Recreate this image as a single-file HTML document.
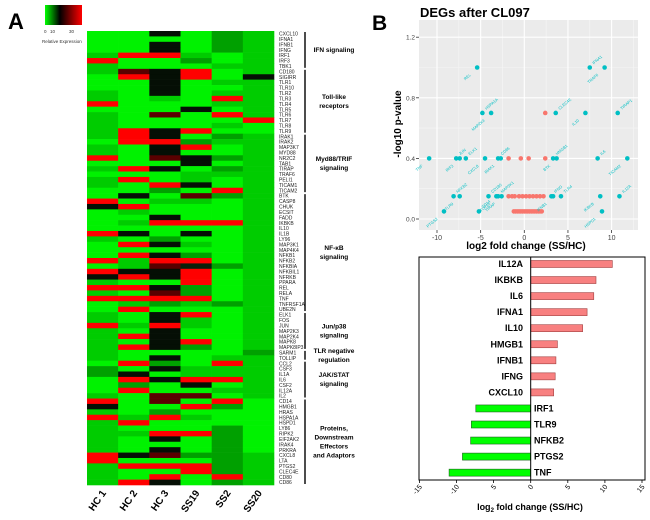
<!DOCTYPE html>
<html><head><meta charset="utf-8"><style>
body{margin:0;background:#fff;}
svg{display:block;font-family:"Liberation Sans",sans-serif;}
</style></head><body>
<svg id="s" width="650" height="520" viewBox="0 0 650 520">
<defs><linearGradient id="cg" x1="0" x2="1"><stop offset="0" stop-color="#00ff00"/><stop offset="0.4" stop-color="#000"/><stop offset="1" stop-color="#ff0000"/></linearGradient></defs>
<text x="8" y="29" font-size="22" font-weight="bold">A</text>
<rect x="45" y="5" width="37" height="20" fill="url(#cg)"/>
<g font-size="4.5" fill="#333"><text x="44" y="33">0</text><text x="50" y="33">10</text><text x="69" y="33">30</text><text x="42" y="43">Relative Expression</text></g>
<g id="hm"></g>
<g id="genes" font-size="5" fill="#222"></g>
<g id="groups"></g>
<g id="cols" font-size="10" font-weight="bold"></g>
<text x="372" y="30" font-size="21" font-weight="bold">B</text>
<text x="420" y="17" font-size="13" font-weight="bold">DEGs after CL097</text>
<g id="sc"></g>
<g id="bar"></g>
</svg>
<script>
const genes=["CXCL10","IFNA1","IFNB1","IFNG","IRF1","IRF3","TBK1","CD180","SIGIRR","TLR1","TLR10","TLR2","TLR3","TLR4","TLR5","TLR6","TLR7","TLR8","TLR9","IRAK1","IRAK2","MAP3K7","MYD88","NR2C2","TAB1","TIRAP","TRAF6","PELI1","TICAM1","TICAM2","BTK","CASP8","CHUK","ECSIT","FADD","IKBKB","IL10","IL1B","LY96","MAP3K1","MAP4K4","NFKB1","NFKB2","NFKBIA","NFKBIL1","NFRKB","PPARA","REL","RELA","TNF","TNFRSF1A","UBE2N","ELK1","FOS","JUN","MAP2K3","MAP2K4","MAPK8","MAPK8IP3","SARM1","TOLLIP","CCL2","CSF3","IL1A","IL6","CSF2","IL12A","IL2","CD14","HMGB1","HRAS","HSPA1A","HSPD1","LY86","RIPK2","EIF2AK2","IRAK4","PRKRA","CXCL8","LTA","PTGS2","CLEC4E","CD80","CD86"];
const samples=["HC 1","HC 2","HC 3","SS19","SS2","SS20"];
const hmRows=["GGKGmg","GGGGmg","GGKGmg","GGKGmg","gRRgGg","RGGmGg","gGGGgg","grKRGg","GRKRGK","GGKGgg","GGKGGg","gGKGgg","gGgGRg","RGGGgg","GGGKGg","gGrGRg","gGGGGR","gGGGgG","gRKRGG","gRKGmg","GRRmgg","gGKRGg","gGKGGg","RGrKmg","GGGKGg","gRKGmg","GGGggg","gRGgGg","gGRKGg","GGmGRg","GKGrmg","RGggGg","KRGGGg","GgGGGg","GGKGGg","GgRRRg","GGGGGg","RKGKGg","gGmGGg","GRKgGg","GGGGGg","GRKmGg","RgRRGg","Ggrkmg","RKKRGg","KRKRGg","gGGRGg","RRKmGg","gGrmGg","RRRRGg","Ggmgmg","GRGGGg","gGKRGg","gGKgGg","RgRgGg","gGKGGg","gRKGGg","gGKRGg","gRKmGg","gGGGGm","gGKGgg","GRmGRg","mGKggg","mKGggg","GRKRRg","GmGKGg","GRGGgg","gGrrGg","RGrGRG","KGGRmG","gGmGGG","RgRgGG","gRGGGG","gGGGmG","ggRRmG","gGKGmG","gGGGmG","gGKGmG","RKrmmg","RGGGmg","gRRRmg","gGGRmg","gGRGRg","gRKGmg"];
const groupNames=[["IFN signaling"],["Toll-like","receptors"],["Myd88/TRIF","signaling"],["NF-κB","signaling"],["Jun/p38","signaling"],["TLR negative","regulation"],["JAK/STAT","signaling"],["Proteins,","Downstream","Effectors","and Adaptors"]];
const groupSizes=[7,12,11,22,7,2,7,16];

const sxTeal=[-5.4,7.5,9.2,-4.8,-3.8,3.6,7.0,10.7,-10.9,-7.8,-7.4,-6.7,-4.5,-3.0,-2.7,3.3,3.7,8.4,11.8,-8.1,-7.4,-4.1,-3.2,-3.0,-2.6,3.1,3.3,4.2,8.7,10.9,-9.2,-5.2,8.9];
const syTeal=[1.0,1.0,1.0,0.7,0.7,0.7,0.7,0.7,0.4,0.4,0.4,0.4,0.4,0.4,0.4,0.4,0.4,0.4,0.4,0.15,0.15,0.15,0.15,0.15,0.15,0.15,0.15,0.15,0.15,0.15,0.05,0.05,0.05];
const labTeal=["REL","IFNA1","TRAF6","HSPA1A","MAP2K4","CLEC4E","IL10","TIRAP1","TNF","JUN","IRF3","ELK1","CXCL8","CD86","IRAK1","HMGB1","BTK","IL6","TICAM2","NFKB2","TLR9","CD180","TLR10","MAP3K1","TIRAP","IFNG","IFNB1","TLR4","IKBKB","IL12A","PTGS2","CD14","HSPD1"];
const sxRed=[2.4,-1.8,-0.4,0.5,2.4,-1.8,-1.4,-1.1,-0.6,-0.2,0.2,0.6,1.0,1.4,1.8,2.2,-1.2,-1.0,-0.8,-0.6,-0.4,-0.2,0,0.2,0.4,0.6,0.8,1.0,1.2,1.4,1.6,1.8,2.0];
const syRed=[0.7,0.4,0.4,0.4,0.4,0.15,0.15,0.15,0.15,0.15,0.15,0.15,0.15,0.15,0.15,0.15,0.05,0.05,0.05,0.05,0.05,0.05,0.05,0.05,0.05,0.05,0.05,0.05,0.05,0.05,0.05,0.05,0.05];
const scXTicks=[-10,-5,0,5,10];
const scYTicks=[0.0,0.4,0.8,1.2];

const barGenes=["IL12A","IKBKB","IL6","IFNA1","IL10","HMGB1","IFNB1","IFNG","CXCL10","IRF1","TLR9","NFKB2","PTGS2","TNF"];
const barValues=[11.0,8.8,8.5,7.6,7.0,3.6,3.4,3.3,3.1,-7.4,-8.0,-8.1,-9.2,-11.0];
const barTicks=[-15,-10,-5,0,5,10,15];
const barTickLabels=["-15","-10","5","0","5","10","15"];

const NS="http://www.w3.org/2000/svg";
function mk(t,a,p){const e=document.createElementNS(NS,t);for(const k in a)e.setAttribute(k,a[k]);p.appendChild(e);return e;}
const cmap={G:"#00f200",g:"#00cc00",m:"#00a000",K:"#050f05",k:"#0a200a",R:"#ff0000",r:"#5a0000"};

// heatmap
const hx0=87,hx1=274,hy0=31,hy1=485;
const cw=(hx1-hx0)/samples.length, rh=(hy1-hy0)/genes.length;
const hm=document.getElementById('hm');
genes.forEach((g,i)=>{
  for(let j=0;j<samples.length;j++){
    const c=mk('rect',{x:hx0+j*cw,y:hy0+i*rh,width:cw+0.3,height:rh+0.3,fill:cmap[hmRows[i][j]]||"#00cc00"},hm);
    
    
  }
  const t=mk('text',{x:279,y:hy0+i*rh+rh*0.85},document.getElementById('genes'));
  t.textContent=g;
  
  
});
samples.forEach((s,j)=>{
  const cx=hx0+(j+0.5)*cw+4, cy=493;
  const t=mk('text',{x:cx,y:cy,transform:`rotate(-55 ${cx} ${cy})`,"text-anchor":"end"},document.getElementById('cols'));
  t.textContent=s;
  
  
});
let acc=0;const gg=document.getElementById('groups');
groupSizes.forEach((n,k)=>{
  const y0=hy0+acc*rh+1,y1=hy0+(acc+n)*rh-1;acc+=n;
  const l=mk('line',{x1:305,x2:305,y1:y0,y2:y1,stroke:"#000","stroke-width":1.4},gg);
  
  
  const lines=groupNames[k];const mid=(y0+y1)/2-(lines.length-1)*4.5+2;
  lines.forEach((ln,q)=>{
    const t=mk('text',{x:334,y:mid+q*9,"font-size":6.5,"font-weight":"bold","text-anchor":"middle"},gg);
    t.textContent=ln;
    
    
  });
});

// volcano
const sc=document.getElementById('sc');
const px0=419,px1=638,py0=20,py1=230;
const X=v=>524.3+v*8.73, Y=v=>219-v*151.5;
mk('rect',{x:px0,y:py0,width:px1-px0,height:py1-py0,fill:"#ebebeb"},sc);
for(let v=-12.5;v<=12.5;v+=5){if(X(v)>px0&&X(v)<px1)mk('line',{x1:X(v),x2:X(v),y1:py0,y2:py1,stroke:"#f6f6f6","stroke-width":0.6},sc);}
for(let v=0.2;v<=1.3;v+=0.4){mk('line',{x1:px0,x2:px1,y1:Y(v),y2:Y(v),stroke:"#f6f6f6","stroke-width":0.6},sc);}
scXTicks.forEach(v=>{
  mk('line',{x1:X(v),x2:X(v),y1:py0,y2:py1,stroke:"#fff","stroke-width":1.1},sc);
  mk('line',{x1:X(v),x2:X(v),y1:py1,y2:py1+3,stroke:"#333","stroke-width":0.8},sc);
  const t=mk('text',{x:X(v),y:py1+10,"font-size":7,fill:"#444","text-anchor":"middle"},sc);t.textContent=v;
  
  
});
scYTicks.forEach(v=>{
  mk('line',{x1:px0,x2:px1,y1:Y(v),y2:Y(v),stroke:"#fff","stroke-width":1.1},sc);
  mk('line',{x1:px0-3,x2:px0,y1:Y(v),y2:Y(v),stroke:"#333","stroke-width":0.8},sc);
  const t=mk('text',{x:px0-4,y:Y(v)+2.5,"font-size":6.5,fill:"#444","text-anchor":"end"},sc);t.textContent=v.toFixed(1);
  
  
});
sxRed.forEach((v,i)=>{
  const c=mk('circle',{cx:X(v),cy:Y(syRed[i]),r:2.3,fill:"#F8766D"},sc);
  
  
});
sxTeal.forEach((v,i)=>{
  const c=mk('circle',{cx:X(v),cy:Y(syTeal[i]),r:2.3,fill:"#00BFC4"},sc);
  
  
  const lx=X(v)-(i%2?-4:6), ly=Y(syTeal[i])+(i%2?-3:8);
  const t=mk('text',{x:lx,y:ly,"font-size":4,fill:"#00BFC4","text-anchor":i%2?"start":"end",transform:`rotate(-40 ${lx} ${ly})`},sc);
  t.textContent=labTeal[i];
  
  
});
let t=mk('text',{x:526,y:249,"font-size":10,"font-weight":"bold","text-anchor":"middle"},sc);t.textContent="log2 fold change (SS/HC)";

t=mk('text',{x:401,y:124,"font-size":10,"font-weight":"bold","text-anchor":"middle",transform:"rotate(-90 401 124)"},sc);t.textContent="-log10 p-value";


// bar chart
const bar=document.getElementById('bar');
const bx0=419,bx1=645,by0=257,by1=480;
const BX=v=>530.7+v*7.42;
mk('rect',{x:bx0,y:by0,width:bx1-bx0,height:by1-by0,fill:"#fff",stroke:"#000","stroke-width":1},bar);
const step=16.05,first=264;
barGenes.forEach((g,i)=>{
  const v=barValues[i],cy=first+i*step;
  const x=Math.min(BX(0),BX(v)),w=Math.abs(BX(v)-BX(0));
  const r=mk('rect',{x:x,y:cy-3.5,width:w,height:7,fill:v>=0?"#f88080":"#00ff00",stroke:v>=0?"#a04040":"#206020","stroke-width":0.6},bar);
  
  
  const tt=mk('text',{x:v>=0?523:534,y:cy+3,"font-size":9,"font-weight":"bold","text-anchor":v>=0?"end":"start"},bar);
  tt.textContent=g;
  
  
});
mk('line',{x1:BX(0),x2:BX(0),y1:by0,y2:by1,stroke:"#000","stroke-width":1},bar);
barTicks.forEach((v,i)=>{
  mk('line',{x1:BX(v),x2:BX(v),y1:by1,y2:by1+3,stroke:"#000","stroke-width":0.8},bar);
  const x=BX(v)+3,y=by1+7;
  const tt=mk('text',{x:x,y:y,"font-size":7,"text-anchor":"end",transform:`rotate(-50 ${x} ${y})`},bar);
  tt.textContent=barTickLabels[i];
  
  
});
t=mk('text',{x:530,y:510,"font-size":9,"font-weight":"bold","text-anchor":"middle"},bar);
t.innerHTML='log<tspan font-size="6" dy="2">2</tspan><tspan dy="-2"> fold change (SS/HC)</tspan>';

</script>
</body></html>
